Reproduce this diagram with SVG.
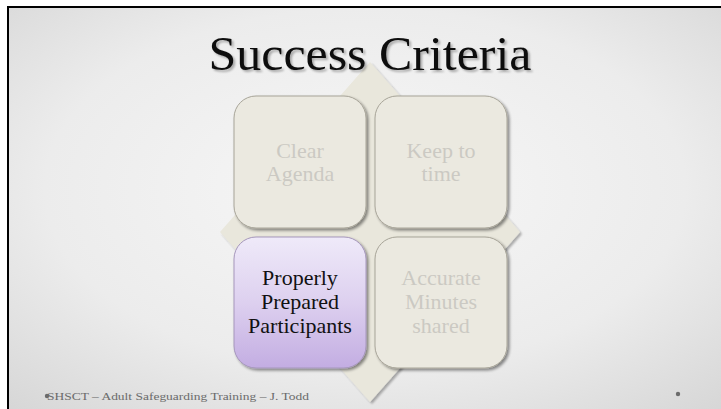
<svg xmlns="http://www.w3.org/2000/svg" width="721" height="409" viewBox="0 0 721 409">
<defs>
<radialGradient id="bg" cx="0.5" cy="0.45" r="0.75">
<stop offset="0" stop-color="#f7f7f7"/>
<stop offset="0.6" stop-color="#ececec"/>
<stop offset="1" stop-color="#d6d6d6"/>
</radialGradient>
<linearGradient id="purple" x1="0" y1="0" x2="0" y2="1">
<stop offset="0" stop-color="#efeaf9"/>
<stop offset="0.5" stop-color="#ddd0ef"/>
<stop offset="1" stop-color="#c3ade2"/>
</linearGradient>
<filter id="sh" x="-10%" y="-10%" width="125%" height="125%">
<feGaussianBlur in="SourceAlpha" stdDeviation="1.5"/>
<feOffset dx="1.5" dy="2" result="b"/>
<feComponentTransfer><feFuncA type="linear" slope="0.45"/></feComponentTransfer>
<feMerge><feMergeNode/><feMergeNode in="SourceGraphic"/></feMerge>
</filter>
<filter id="tsh" x="-5%" y="-20%" width="110%" height="140%">
<feGaussianBlur in="SourceAlpha" stdDeviation="1.2"/>
<feOffset dx="1.5" dy="2" result="b"/>
<feComponentTransfer><feFuncA type="linear" slope="0.3"/></feComponentTransfer>
<feMerge><feMergeNode/><feMergeNode in="SourceGraphic"/></feMerge>
</filter>
</defs>
<style>
.box{fill:#ebe9e0;stroke:#a7a498;stroke-width:1}
.boxp{fill:url(#purple);stroke:#a596bb;stroke-width:1}
.dim{font-family:"Liberation Serif","DejaVu Serif",serif;font-size:22px;fill:#cbc9c3;text-anchor:middle}
.dark{font-family:"Liberation Serif","DejaVu Serif",serif;font-size:22px;fill:#111;text-anchor:middle}
.foot{font-family:"Liberation Serif","DejaVu Serif",serif;font-size:11px;fill:#6b6b6b}
</style>
<rect x="0" y="0" width="721" height="409" fill="#ffffff"/>
<rect x="7" y="6" width="714" height="403" fill="#000000"/>
<rect x="9" y="8" width="712" height="401" fill="url(#bg)"/>
<g id="matrix-background">
<polygon points="370,62 520,232 370,402 220,232" fill="#e9e7dc" filter="url(#tsh)"/>
</g>
<g id="title">
<text x="370" y="70" font-family="'Liberation Serif','DejaVu Serif',serif" font-size="48" fill="#111" text-anchor="middle" textLength="323" lengthAdjust="spacingAndGlyphs" filter="url(#tsh)">Success Criteria</text>
</g>
<g id="node-clear-agenda">
<rect class="box" x="234" y="96" width="132" height="132" rx="22" filter="url(#sh)"/>
<text class="dim" x="300" y="158">Clear</text>
<text class="dim" x="300" y="181">Agenda</text>
</g>
<g id="node-keep-to-time">
<rect class="box" x="375" y="96" width="132" height="132" rx="22" filter="url(#sh)"/>
<text class="dim" x="441" y="158">Keep to</text>
<text class="dim" x="441" y="181">time</text>
</g>
<g id="node-properly-prepared">
<rect class="boxp" x="234" y="237" width="132" height="131" rx="22" filter="url(#sh)"/>
<text class="dark" x="300" y="285">Properly</text>
<text class="dark" x="300" y="309">Prepared</text>
<text class="dark" x="300" y="333">Participants</text>
</g>
<g id="node-accurate-minutes">
<rect class="box" x="375" y="237" width="132" height="131" rx="22" filter="url(#sh)"/>
<text class="dim" x="441" y="285">Accurate</text>
<text class="dim" x="441" y="309">Minutes</text>
<text class="dim" x="441" y="333">shared</text>
</g>
<g id="connectors"></g>
<g id="footer">
<circle cx="47" cy="396" r="2.2" fill="#6b6b6b"/>
<text class="foot" x="47" y="400" textLength="262" lengthAdjust="spacingAndGlyphs">SHSCT – Adult Safeguarding Training – J. Todd</text>
<circle cx="678" cy="394" r="2.2" fill="#6b6b6b"/>
</g>
</svg>
